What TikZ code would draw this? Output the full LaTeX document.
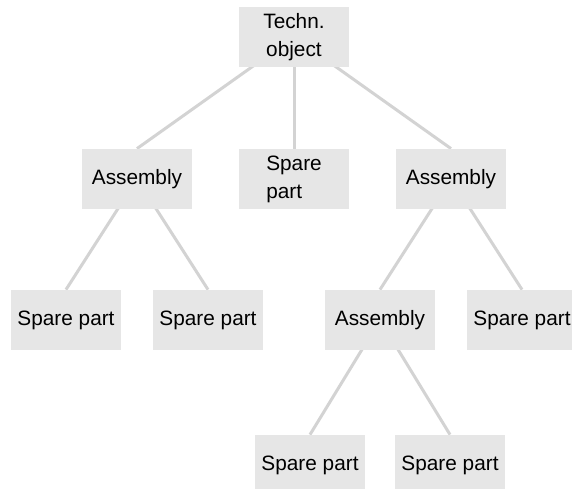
\documentclass[tikz,border=0pt]{standalone}
\usepackage{fontspec}
\setmainfont{Liberation Sans}
\usetikzlibrary{positioning, backgrounds}
\definecolor{boxfill}{HTML}{E6E6E6}
\definecolor{linkgray}{HTML}{D3D3D3}

\begin{document}
\begin{tikzpicture}[
  every node/.style={font=\fontsize{10.4}{14}\selectfont},
  item/.style={
    fill=boxfill, minimum width=55pt, minimum height=30pt,
    inner sep=0pt, align=center
  },
  part/.style={item, align=left},
  link/.style={linkgray, line width=1.5pt},
  on grid
]
  \useasboundingbox (-147pt,18.5pt) rectangle (139pt,-225.5pt);

  \node[item] (obj) {Techn.\\object};
  \node[item, below left=71pt and 78.5pt of obj] (asm1) {Assembly};
  \node[part, below=71pt of obj] (sp1) {Spare\\part};
  \node[item, below right=71pt and 78.5pt of obj] (asm2) {Assembly};

  \node[item, below left=70.5pt and 35.5pt of asm1] (sp2) {Spare part};
  \node[item, below right=70.5pt and 35.5pt of asm1] (sp3) {Spare part};
  \node[item, below left=70.5pt and 35.5pt of asm2] (asm3) {Assembly};
  \node[item, below right=70.5pt and 35.5pt of asm2] (sp4) {Spare part};

  \node[item, below left=72.5pt and 35pt of asm3] (sp5) {Spare part};
  \node[item, below right=72.5pt and 35pt of asm3] (sp6) {Spare part};

  % connectors run from parent centre to child top, under the boxes
  \begin{scope}[on background layer]
    \draw[link] (obj.center) -- (asm1.north);
    \draw[link] (obj.center) -- (sp1.north);
    \draw[link] (obj.center) -- (asm2.north);
    \draw[link] (asm1.center) -- (sp2.north);
    \draw[link] (asm1.center) -- (sp3.north);
    \draw[link] (asm2.center) -- (asm3.north);
    \draw[link] (asm2.center) -- (sp4.north);
    \draw[link] (asm3.center) -- (sp5.north);
    \draw[link] (asm3.center) -- (sp6.north);
  \end{scope}
\end{tikzpicture}
\end{document}
